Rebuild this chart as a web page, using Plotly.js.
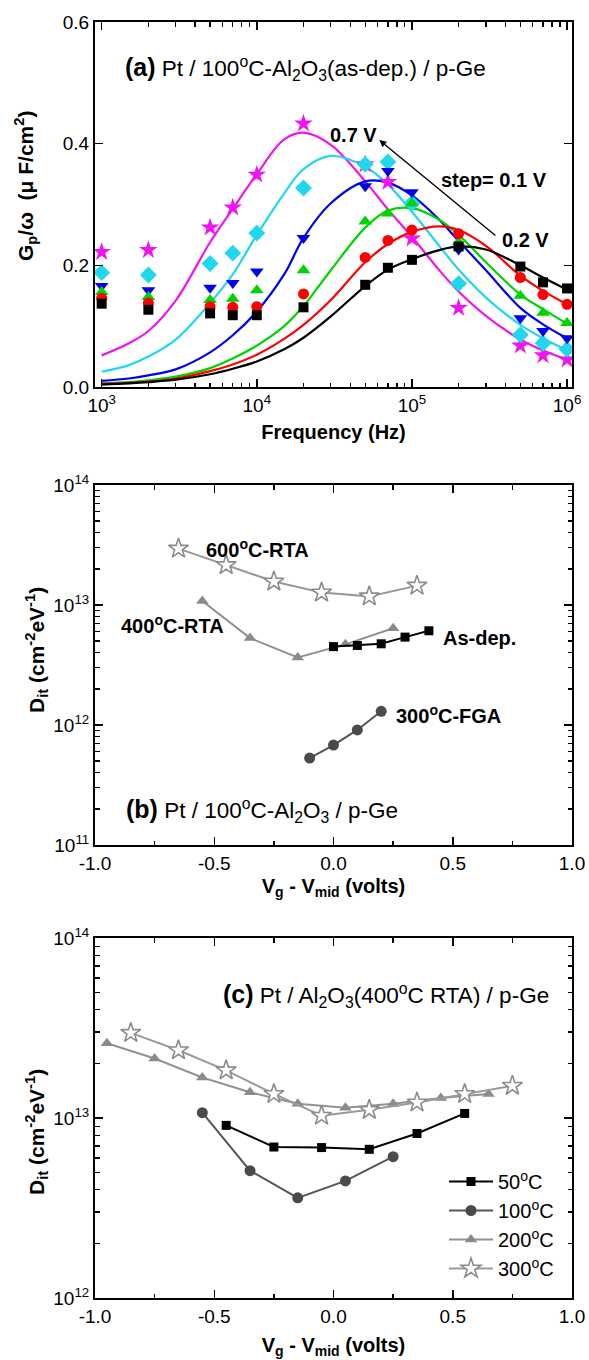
<!DOCTYPE html>
<html>
<head>
<meta charset="utf-8">
<script src="https://cdn.plot.ly/plotly-3.0.1.min.js"></script>
<style>html,body{margin:0;padding:0;background:#fff;}#chart{width:589px;height:1360px;}</style>
</head>
<body>
<div id="chart"></div>
<script>
// ---------- Panel (a): Gp/omega vs frequency ----------
const freqs = [1e3, 2e3, 5e3, 7e3, 1e4, 2e4, 5e4, 7e4, 1e5, 2e5, 5e5, 7e5, 1e6];
const pts02 = [0.137, 0.127, 0.121, 0.118, 0.118, 0.131, 0.168, 0.196, 0.209, 0.231, 0.198, 0.172, 0.162];
const pts03 = [0.146, 0.138, 0.132, 0.131, 0.132, 0.153, 0.213, 0.241, 0.258, 0.252, 0.180, 0.152, 0.136];
const pts04 = [0.156, 0.148, 0.143, 0.145, 0.159, 0.192, 0.272, 0.285, 0.302, 0.238, 0.150, 0.122, 0.105];
const pts05 = [0.166, 0.159, 0.163, 0.171, 0.190, 0.245, 0.330, 0.355, 0.320, 0.226, 0.113, 0.092, 0.080];
const pts06 = [0.188, 0.184, 0.203, 0.220, 0.253, 0.327, 0.366, 0.370, 0.302, 0.170, 0.086, 0.072, 0.062];
const pts07 = [0.222, 0.225, 0.262, 0.295, 0.349, 0.433, 0.366, 0.337, 0.244, 0.130, 0.068, 0.052, 0.045];

const fitFreqs = [1e3, 1.5e3, 2e3, 3e3, 5e3, 7e3, 1e4, 1.5e4, 2e4, 3e4, 5e4, 7e4, 1e5, 1.5e5, 2e5, 3e5, 5e5, 7e5, 1e6];
const fit02 = [0.004, 0.006, 0.008, 0.012, 0.021, 0.030, 0.042, 0.062, 0.081, 0.116, 0.166, 0.193, 0.210, 0.225, 0.231, 0.226, 0.200, 0.180, 0.160];
const fit03 = [0.005, 0.007, 0.009, 0.014, 0.026, 0.037, 0.053, 0.079, 0.102, 0.143, 0.205, 0.235, 0.255, 0.264, 0.258, 0.232, 0.183, 0.158, 0.136];
const fit04 = [0.006, 0.008, 0.011, 0.017, 0.031, 0.047, 0.068, 0.100, 0.133, 0.192, 0.262, 0.290, 0.294, 0.275, 0.250, 0.205, 0.152, 0.128, 0.104];
const fit05 = [0.010, 0.014, 0.019, 0.029, 0.057, 0.085, 0.124, 0.185, 0.245, 0.302, 0.338, 0.336, 0.315, 0.275, 0.240, 0.192, 0.130, 0.103, 0.080];
const fit06 = [0.025, 0.036, 0.050, 0.078, 0.138, 0.185, 0.250, 0.318, 0.358, 0.380, 0.362, 0.333, 0.288, 0.232, 0.193, 0.147, 0.102, 0.080, 0.060];
const fit07 = [0.052, 0.072, 0.092, 0.142, 0.238, 0.293, 0.350, 0.407, 0.418, 0.398, 0.338, 0.292, 0.247, 0.192, 0.157, 0.117, 0.078, 0.060, 0.045];

// ---------- Panel (b): Dit vs Vg - Vmid, different anneals ----------
const b600x = [-0.65, -0.45, -0.25, -0.05, 0.15, 0.35];
const b600y = [2.95e13, 2.15e13, 1.57e13, 1.27e13, 1.18e13, 1.45e13];
const b400x = [-0.55, -0.35, -0.15, 0.05, 0.25];
const b400y = [1.08e13, 5.3e12, 3.65e12, 4.7e12, 6.4e12];
const bAsx = [0.0, 0.1, 0.2, 0.3, 0.4];
const bAsy = [4.5e12, 4.6e12, 4.75e12, 5.4e12, 6.1e12];
const b300x = [-0.1, 0.0, 0.1, 0.2];
const b300y = [5.3e11, 6.8e11, 9.1e11, 1.3e12];

// ---------- Panel (c): Dit vs Vg - Vmid, measurement temperature ----------
const c50x = [-0.45, -0.25, -0.05, 0.15, 0.35, 0.55];
const c50y = [9.1e12, 6.9e12, 6.85e12, 6.7e12, 8.2e12, 1.06e13];
const c100x = [-0.55, -0.35, -0.15, 0.05, 0.25];
const c100y = [1.07e13, 5.1e12, 3.6e12, 4.47e12, 6.1e12];
const c200x = [-0.95, -0.75, -0.55, -0.35, -0.15, 0.05, 0.25, 0.45, 0.65];
const c200y = [2.6e13, 2.14e13, 1.68e13, 1.39e13, 1.2e13, 1.14e13, 1.2e13, 1.29e13, 1.36e13];
const c300x = [-0.85, -0.65, -0.45, -0.25, -0.05, 0.15, 0.35, 0.55, 0.75];
const c300y = [2.97e13, 2.38e13, 1.84e13, 1.36e13, 1.03e13, 1.11e13, 1.22e13, 1.36e13, 1.51e13];

const legendNames = ['50<sup>o</sup>C', '100<sup>o</sup>C', '200<sup>o</sup>C', '300<sup>o</sup>C'];
const xTicksA = [1e3, 1e4, 1e5, 1e6];
const xTickTextA = ['10<sup>3</sup>', '10<sup>4</sup>', '10<sup>5</sup>', '10<sup>6</sup>'];
const yTicksB = [1e11, 1e12, 1e13, 1e14];
const yTickTextB = ['10<sup>11</sup>', '10<sup>12</sup>', '10<sup>13</sup>', '10<sup>14</sup>'];
const yTicksC = [1e12, 1e13, 1e14];
const yTickTextC = ['10<sup>12</sup>', '10<sup>13</sup>', '10<sup>14</sup>'];

// ---------- styles ----------
const colors = {v02:'#000000', v03:'#ff0000', v04:'#00d400', v05:'#0000f0', v06:'#1fd8ee', v07:'#f014f0'};
const FONT = 'Liberation Sans, Arial, sans-serif';

function minorLog(lo, hi) {
  const out = [];
  for (let e = lo; e < hi; e++) for (let m = 2; m <= 9; m++) out.push(m * Math.pow(10, e));
  return out;
}

const traces = [];
function fitLine(y, c) {
  traces.push({x: fitFreqs, y: y, xaxis:'x', yaxis:'y', mode:'lines', showlegend:false,
    line:{color:c, width:2.2, shape:'spline', smoothing:1}, hoverinfo:'skip'});
}
function ptSet(y, c, sym, size) {
  traces.push({x: freqs, y: y, xaxis:'x', yaxis:'y', mode:'markers', showlegend:false,
    marker:{color:c, symbol:sym, size:size, line:{width:0}}});
}
fitLine(fit07, colors.v07); fitLine(fit06, colors.v06); fitLine(fit05, colors.v05);
fitLine(fit04, colors.v04); fitLine(fit03, colors.v03); fitLine(fit02, colors.v02);
ptSet(pts07, colors.v07, 'star', 14);
ptSet(pts06, colors.v06, 'diamond', 13);
ptSet(pts05, colors.v05, 'triangle-down', 12);
ptSet(pts04, colors.v04, 'triangle-up', 12);
ptSet(pts03, colors.v03, 'circle', 11);
ptSet(pts02, colors.v02, 'square', 10);

const GRAY_STAR = '#8c8c8c', GRAY_TRI = '#8a8a8a', DARK = '#4a4a4a';
function dit(x, y, ax, ay, name, lineC, sym, mC, mSize, mLine, show) {
  traces.push({x:x, y:y, xaxis:ax, yaxis:ay, mode:'lines+markers', name:name, showlegend:show,
    line:{color:lineC, width:2},
    marker:{symbol:sym, color:mC, size:mSize, line:mLine}});
}
// panel b
dit(b600x, b600y, 'x2', 'y2', '600C', '#999999', 'star', '#ffffff', 15, {color:GRAY_STAR, width:1.6}, false);
dit(b400x, b400y, 'x2', 'y2', '400C', '#909090', 'triangle-up', GRAY_TRI, 11, {width:0}, false);
dit(bAsx, bAsy, 'x2', 'y2', 'asdep', '#000000', 'square', '#000000', 9, {width:0}, false);
dit(b300x, b300y, 'x2', 'y2', '300C', '#555555', 'circle', DARK, 11, {width:0}, false);
// panel c
dit(c50x, c50y, 'x3', 'y3', legendNames[0], '#000000', 'square', '#000000', 9, {width:0}, true);
dit(c100x, c100y, 'x3', 'y3', legendNames[1], '#555555', 'circle', DARK, 11, {width:0}, true);
dit(c200x, c200y, 'x3', 'y3', legendNames[2], '#929292', 'triangle-up', GRAY_TRI, 11, {width:0}, true);
dit(c300x, c300y, 'x3', 'y3', legendNames[3], '#9a9a9a', 'star', '#ffffff', 15, {color:GRAY_STAR, width:1.6}, true);

const W = 589, H = 1360;
const xDom = [95 / W, 572 / W];
function yDom(top, bottom) { return [1 - bottom / H, 1 - top / H]; }

const TICK = 19;
const axCommon = {showline:true, linecolor:'#000', linewidth:2, mirror:'allticks', ticks:'inside',
  ticklen:8, tickwidth:1.5, tickcolor:'#000', showgrid:false, zeroline:false,
  tickfont:{family:FONT, size:TICK, color:'#000'}};
const titleFont = {family:FONT, size:20, color:'#000'};
const minorStyle = {ticks:'inside', ticklen:4.5, tickwidth:1.3, tickcolor:'#000'};
const ANN = 20, LBL = 22.5;
const labelFont = {family:FONT, size:LBL, color:'#000'};
const annFont = {family:FONT, size:ANN, color:'#000'};
const yTitleFont = {family:FONT, size:21, color:'#000'};

const layout = {
  width: W, height: H, margin:{l:0, r:0, t:0, b:0}, paper_bgcolor:'#fff', plot_bgcolor:'#fff',
  font:{family:FONT, color:'#000'},
  showlegend:true,
  legend:{x:444 / W, y:1 - 1162 / H, xanchor:'left', yanchor:'top', bgcolor:'rgba(0,0,0,0)',
    font:{family:FONT, size:20, color:'#000'}, tracegroupgap:0, itemwidth:44, traceorder:'normal'},
  xaxis: Object.assign({}, axCommon, {domain:xDom, anchor:'y', type:'log', range:[2.957, 6.032],
    tickmode:'array', tickvals:xTicksA, ticktext:xTickTextA,
    minor:Object.assign({tickvals:minorLog(3, 6)}, minorStyle),
    title:{text:'<b>Frequency (Hz)</b>', font:titleFont, standoff:10}}),
  yaxis: Object.assign({}, axCommon, {domain:yDom(22, 387), anchor:'x', range:[0, 0.6],
    tickmode:'array', tickvals:[0, 0.2, 0.4, 0.6], ticktext:['0.0', '0.2', '0.4', '0.6']}),
  xaxis2: Object.assign({}, axCommon, {domain:xDom, anchor:'y2', range:[-1, 1],
    tickmode:'array', tickvals:[-1, -0.5, 0, 0.5, 1], ticktext:['-1.0', '-0.5', '0.0', '0.5', '1.0'],
    minor:Object.assign({tickvals:[-0.75, -0.25, 0.25, 0.75]}, minorStyle),
    title:{text:'<b>V<sub>g</sub> - V<sub>mid</sub> (volts)</b>', font:titleFont, standoff:6}}),
  yaxis2: Object.assign({}, axCommon, {domain:yDom(485, 845), anchor:'x2', type:'log', range:[11, 14],
    tickmode:'array', tickvals:yTicksB, ticktext:yTickTextB,
    minor:Object.assign({tickvals:minorLog(11, 14)}, minorStyle)}),
  xaxis3: Object.assign({}, axCommon, {domain:xDom, anchor:'y3', range:[-1, 1],
    tickmode:'array', tickvals:[-1, -0.5, 0, 0.5, 1], ticktext:['-1.0', '-0.5', '0.0', '0.5', '1.0'],
    minor:Object.assign({tickvals:[-0.75, -0.25, 0.25, 0.75]}, minorStyle),
    title:{text:'<b>V<sub>g</sub> - V<sub>mid</sub> (volts)</b>', font:titleFont, standoff:12}}),
  yaxis3: Object.assign({}, axCommon, {domain:yDom(938, 1298), anchor:'x3', type:'log', range:[12, 14],
    tickmode:'array', tickvals:yTicksC, ticktext:yTickTextC,
    minor:Object.assign({tickvals:minorLog(12, 14)}, minorStyle)}),
  annotations: [
    // y-axis titles
    {xref:'paper', yref:'paper', x:26 / W, y:1 - 186 / H, textangle:-90, showarrow:false,
      xanchor:'center', yanchor:'middle',
      text:'<b>G<sub>p</sub>/ω  (μ F/cm<sup>2</sup>)</b>', font:yTitleFont},
    {xref:'paper', yref:'paper', x:36 / W, y:1 - 650 / H, textangle:-90, showarrow:false,
      xanchor:'center', yanchor:'middle',
      text:'<b>D<sub>it</sub> (cm<sup>-2</sup>eV<sup>-1</sup>)</b>', font:yTitleFont},
    {xref:'paper', yref:'paper', x:36 / W, y:1 - 1132 / H, textangle:-90, showarrow:false,
      xanchor:'center', yanchor:'middle',
      text:'<b>D<sub>it</sub> (cm<sup>-2</sup>eV<sup>-1</sup>)</b>', font:yTitleFont},
    // panel (a) texts
    {xref:'x', yref:'y', x:3.135, y:0.524, xanchor:'left', yanchor:'middle', showarrow:false,
      text:'<span style="font-size:25px"><b>(a)</b></span> Pt / 100<sup>o</sup>C-Al<sub>2</sub>O<sub>3</sub>(as-dep.) / p-Ge',
      font:labelFont},
    {xref:'x', yref:'y', x:4.621, y:0.414, showarrow:false, text:'<b>0.7 V</b>', font:annFont},
    {xref:'x', yref:'y', x:4.79, y:0.406, axref:'x', ayref:'y', ax:5.548, ay:0.247, text:'',
      showarrow:true, arrowhead:2, arrowsize:1, arrowwidth:1.4, arrowcolor:'#000', standoff:0, startstandoff:0},
    {xref:'x', yref:'y', x:5.531, y:0.34, showarrow:false, text:'<b>step= 0.1 V</b>', font:annFont},
    {xref:'x', yref:'y', x:5.731, y:0.242, showarrow:false, text:'<b>0.2 V</b>', font:annFont},
    // panel (b) texts
    {xref:'x2', yref:'y2', x:-0.543, y:13.47, xanchor:'left', yanchor:'middle', showarrow:false,
      text:'<b>600<sup>o</sup>C-RTA</b>', font:annFont},
    {xref:'x2', yref:'y2', x:-0.90, y:12.84, xanchor:'left', yanchor:'middle', showarrow:false,
      text:'<b>400<sup>o</sup>C-RTA</b>', font:annFont},
    {xref:'x2', yref:'y2', x:0.45, y:12.724, xanchor:'left', yanchor:'middle', showarrow:false,
      text:'<b>As-dep.</b>', font:annFont},
    {xref:'x2', yref:'y2', x:0.254, y:12.085, xanchor:'left', yanchor:'middle', showarrow:false,
      text:'<b>300<sup>o</sup>C-FGA</b>', font:annFont},
    {xref:'x2', yref:'y2', x:-0.877, y:11.284, xanchor:'left', yanchor:'middle', showarrow:false,
      text:'<span style="font-size:25px"><b>(b)</b></span> Pt / 100<sup>o</sup>C-Al<sub>2</sub>O<sub>3</sub> / p-Ge',
      font:labelFont},
    // panel (c) text
    {xref:'x3', yref:'y3', x:0.912, y:13.68, xanchor:'right', yanchor:'middle', showarrow:false,
      text:'<span style="font-size:25px"><b>(c)</b></span> Pt / Al<sub>2</sub>O<sub>3</sub>(400<sup>o</sup>C RTA) / p-Ge',
      font:labelFont}
  ]
};

Plotly.newPlot('chart', traces, layout, {displayModeBar:false, staticPlot:true});
</script>
</body>
</html>
